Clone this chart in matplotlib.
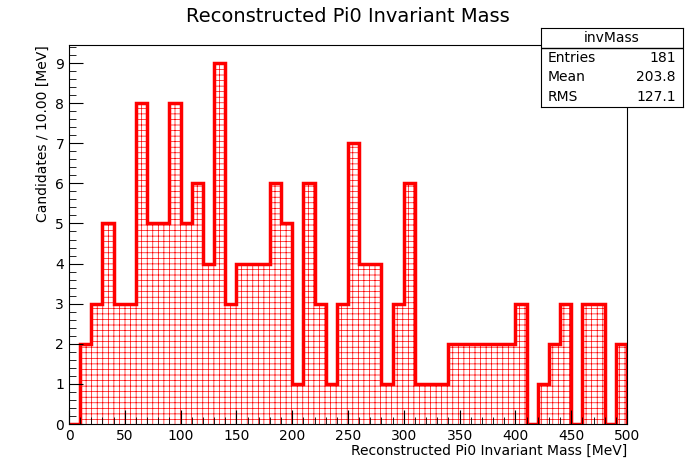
import matplotlib
matplotlib.use("Agg")
import matplotlib.pyplot as plt
import numpy as np
from matplotlib.ticker import MultipleLocator

edges = np.arange(0, 510, 10)
counts = [0,2,3,5,3,3,8,5,5,8,5,6,4,9,3,4,4,4,6,5,1,6,3,1,3,7,4,4,1,3,6,1,1,1,2,2,2,2,2,2,3,0,1,2,3,0,3,3,0,2]

plt.rcParams['hatch.color'] = 'red'
plt.rcParams['hatch.linewidth'] = 0.5
fig = plt.figure(figsize=(6.96, 4.72), dpi=100)
ax = fig.add_axes([69/696, 1-424/472, 558/696, 379/472])
ax.set_axisbelow(False)
ax.stairs(counts, edges, fill=True, facecolor='white', edgecolor='red', hatch='+++', linewidth=0, zorder=1)
ax.stairs(counts, edges, color='red', linewidth=2.5, zorder=1.5)
ax.set_xlim(0, 500)
ax.set_ylim(0, 9.45)
ax.xaxis.set_major_locator(MultipleLocator(50))
ax.xaxis.set_minor_locator(MultipleLocator(10))
ax.yaxis.set_major_locator(MultipleLocator(1))
ax.yaxis.set_minor_locator(MultipleLocator(0.2))
ax.tick_params(which='both', direction='in', top=False, right=False, labelsize=10)
ax.tick_params(which='major', length=10)
ax.tick_params(which='minor', length=5)
ax.set_xlabel('Reconstructed Pi0 Invariant Mass [MeV]', loc='right', fontsize=10, labelpad=1)
ax.set_ylabel('Candidates / 10.00 [MeV]', loc='top', fontsize=10)
fig.text(0.5, 1-17/472, 'Reconstructed Pi0 Invariant Mass', ha='center', va='center', fontsize=14)

# stats box
bx0, bx1, by0, by1 = 541/696, 683/696, 1-107/472, 1-28/472
box = fig.add_axes([bx0, by0, bx1-bx0, by1-by0])
box.set_xticks([]); box.set_yticks([])
box.set_xlim(0, 1); box.set_ylim(0, 4)
box.axhline(3, color='black', linewidth=1)
box.text(0.5, 3.5, 'invMass', ha='center', va='center', fontsize=10)
for i, (k, v) in enumerate([('Entries', '181'), ('Mean', '203.8'), ('RMS', '127.1')]):
    y = 2.5 - i
    box.text(0.05, y, k, ha='left', va='center', fontsize=10)
    box.text(0.95, y, v, ha='right', va='center', fontsize=10)
fig.savefig('out.png', dpi=100)
